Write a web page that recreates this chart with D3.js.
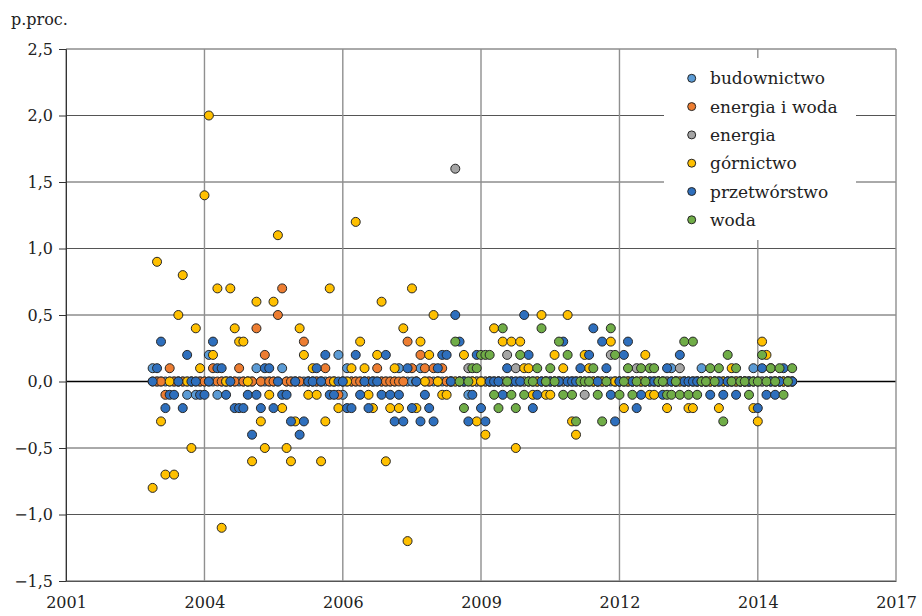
<!DOCTYPE html>
<html lang="pl">
<head>
<meta charset="utf-8">
<script src="https://cdn.jsdelivr.net/npm/d3@7"></script>
<style>
  body { margin: 0; background: #fff; }
</style>
</head>
<body>
<div id="chart"></div>
<script>
// Dane miesięczne (p.proc.), jeden wiersz = jeden rok
// budownictwo, górnictwo, przetwórstwo, energia i woda: od 2003-01
const budownictwo = [
  0.1, 0, 0, 0, 0, 0, 0, 0, -0.1, 0, -0.1, 0,
  0, 0.2, 0, -0.1, 0, 0, 0, 0, 0, 0, 0, 0,
  0.1, 0, 0, 0, 0, 0, 0.1, 0, 0, 0, 0, 0,
  0, 0, 0, 0, 0, 0, 0, 0.2, -0.1, 0.1, 0, 0,
  0, 0, 0, 0, 0, 0, 0, 0, 0, 0.1, 0, 0,
  0, 0, 0.1, 0, 0, 0, 0, 0, 0, 0, 0, 0,
  0, -0.1, 0, 0, 0, 0, 0, 0, 0, 0, 0, 0,
  0, 0, 0, 0, 0, 0, 0, 0, 0, 0, 0, 0,
  0, 0, 0, 0, 0, 0, 0, 0, 0, 0, 0, 0,
  0, 0, 0, 0, 0, 0, 0, 0, 0, 0, 0, 0,
  0.1, 0, 0, 0, 0, 0, 0, 0.1, 0, 0, 0, 0,
  0, 0, 0, 0, 0, 0, 0, 0.1, 0, 0, 0, 0,
  0, 0, 0, 0, 0
];

const energiaWoda = [
  0, 0, 0, -0.1, 0.1, 0, 0, 0, 0, 0, 0, 0,
  0, 0, 0.1, 0, 0, 0, 0, 0, 0.1, 0, 0, 0,
  0.4, 0, 0.2, 0, 0, 0.5, 0.7, 0, 0, 0, 0, 0.3,
  0, 0, 0, 0, 0.1, 0, 0, -0.1, 0, 0, 0, 0,
  0, 0, 0, 0, 0.1, 0, 0, 0, 0, 0, 0, 0.3,
  0.1, 0, 0.2, 0.1, 0, 0.1, 0, 0.1, 0, 0
];

// energia i woda osobno: od 2008-11
const energia = [
  1.6, 0,
  0, 0.1, 0, 0, 0, 0, 0, 0, 0, 0, 0.2, 0,
  0.1, 0, 0, 0, 0, 0, 0, 0, 0, 0, 0, 0,
  0, 0, 0, 0, -0.1, 0, 0, 0, 0, 0, 0.2, 0,
  0, 0, 0, 0, 0.1, 0, 0, 0, 0, 0, 0, 0,
  0, 0, 0.1, 0, 0, 0, 0, 0, 0, 0, 0, 0,
  0, 0, 0, 0, 0, 0, 0, 0, 0, 0, 0, 0,
  0, 0, 0, 0, 0
];

const gornictwo = [
  -0.8, 0.9, -0.3, -0.7, 0, -0.7, 0.5, 0.8, 0, -0.5, 0.4, 0.1,
  1.4, 2.0, 0.2, 0.7, -1.1, 0, 0.7, 0.4, 0.3, 0.3, 0, -0.6,
  0.6, -0.3, -0.5, -0.1, 0.6, 1.1, -0.2, -0.5, -0.6, -0.3, 0.4, 0.2,
  -0.1, 0.1, -0.1, -0.6, -0.3, 0.7, 0, -0.2, 0, 0, 0.1, 1.2,
  0.3, 0.1, -0.1, -0.2, 0.2, 0.6, -0.6, -0.2, 0.1, -0.2, 0.4, -1.2,
  0.7, -0.2, 0.3, 0, 0.2, 0.5, 0, -0.1, -0.1, 0, 0, 0,
  0.2, 0, 0, -0.3, 0, -0.4, 0, 0.4, 0, 0.3, 0, 0.3,
  -0.5, 0.3, 0.1, 0.1, -0.1, 0, 0.5, -0.1, -0.1, 0.2, 0, 0.1,
  0.5, -0.3, -0.4, 0, 0.2, 0.1, 0, 0, 0, 0, 0.3, 0,
  0, -0.2, 0, 0, 0, 0, 0.2, -0.1, -0.1, 0, 0, -0.2,
  0, 0, 0, 0, -0.2, -0.2, 0, 0, 0, 0, 0, -0.2,
  0, 0, 0.1, 0, 0, 0, 0, -0.2, -0.3, 0.3, 0.2, 0.1,
  0, 0, 0, 0, 0
];

const przetworstwo = [
  0, 0.1, 0.3, -0.2, -0.1, -0.1, 0, -0.2, 0.2, 0, 0, -0.1,
  -0.1, 0, 0.3, 0.1, 0.1, -0.1, 0, -0.2, -0.2, -0.2, -0.1, -0.4,
  -0.1, -0.2, 0.1, 0.1, -0.2, 0, -0.1, -0.1, -0.3, 0, -0.4, -0.3,
  0, 0, 0.1, 0, 0.2, -0.1, -0.1, 0, 0, -0.2, -0.2, 0.2,
  -0.1, 0, -0.2, 0, 0, -0.1, 0.2, -0.1, -0.3, -0.1, -0.3, 0.1,
  -0.2, 0, -0.3, -0.1, -0.2, -0.3, 0.1, 0.2, 0.2, 0, 0.5, 0.3,
  0, -0.3, -0.1, 0.2, -0.2, -0.3, 0, 0, 0, -0.1, 0.1, 0,
  0, 0, 0.5, 0.2, -0.2, -0.1, 0, 0, 0, 0, 0, 0.3,
  0, 0, 0, 0.1, 0, 0.2, 0.4, 0, 0.3, 0.1, -0.1, -0.3,
  0, 0.2, 0.3, 0, -0.2, -0.1, 0, 0, 0, 0, -0.1, 0.1,
  0, 0, 0.2, 0, 0, 0, 0, 0, 0, -0.1, 0, 0,
  -0.1, 0, 0, -0.1, 0, 0, 0, 0, -0.2, 0.1, -0.1, 0,
  -0.1, 0, 0.1, 0, 0
];

const woda = [
  0.3, 0,
  -0.2, 0, 0.1, 0.1, 0.2, 0.2, 0.2, -0.1, -0.2, 0.4, 0, -0.1,
  -0.2, 0.2, -0.1, 0, 0, 0.1, 0.4, 0, 0.1, 0, 0.3, -0.1,
  0.2, -0.1, -0.3, 0, 0, 0, 0.1, -0.1, -0.3, 0, 0.4, 0.2,
  -0.1, 0, 0.1, -0.1, 0, 0.1, 0, 0.1, 0.1, 0, 0, -0.1,
  -0.1, 0, -0.1, 0.3, -0.1, 0.3, -0.1, 0, 0, 0.1, 0, 0.1,
  -0.3, 0.2, 0, 0.1, 0, 0, -0.1, 0, 0, 0.2, 0, 0.1,
  0, 0.1, -0.1, 0, 0.1
];

const seriesNames = ["budownictwo", "energia i woda", "energia", "górnictwo", "przetwórstwo", "woda"];
const seriesValues = [budownictwo, energiaWoda, energia, gornictwo, przetworstwo, woda];
const seriesStart = ["2003-01", "2003-01", "2008-11", "2003-01", "2003-01", "2008-11"];
const seriesColors = ["#5b9bd5", "#ed7d31", "#a5a5a5", "#ffc000", "#2e6fbd", "#70ad47"];

const yTicks = [-1.5, -1.0, -0.5, 0, 0.5, 1.0, 1.5, 2.0, 2.5];
const xTickDates = ["2001-05", "2004-01", "2006-09", "2009-05", "2012-01", "2014-09", "2017-05"];

// Wymiary
const width = 922;
const height = 616;
const margin = { top: 49, right: 26, bottom: 35, left: 66 };
const innerWidth = width - margin.left - margin.right;
const innerHeight = height - margin.top - margin.bottom;
const fontFamily = "DejaVu Serif";

const parseMonth = d3.timeParse("%Y-%m");
const fmtY = (d) => d3.format(".1f")(d).replace(".", ",");

const svg = d3
  .select("#chart")
  .append("svg")
  .attr("width", width)
  .attr("height", height)
  .attr("font-family", fontFamily);

const chart = svg
  .append("g")
  .attr("transform", `translate(${margin.left}, ${margin.top})`);

// Skale
const tickDates = xTickDates.map(parseMonth);
const x = d3
  .scaleTime()
  .domain([tickDates[0], tickDates[tickDates.length - 1]])
  .range([0, innerWidth]);

const y = d3.scaleLinear().domain([-1.5, 2.5]).range([innerHeight, 0]);

// Siatka pozioma
chart
  .selectAll("line.hgrid")
  .data(yTicks)
  .enter()
  .append("line")
  .attr("class", "hgrid")
  .attr("x1", 0)
  .attr("x2", innerWidth)
  .attr("y1", (d) => y(d))
  .attr("y2", (d) => y(d))
  .attr("stroke", (d) => (d === 0 ? "#000" : "#555"))
  .attr("stroke-width", (d) => (d === 0 ? 1.5 : 1));

// Siatka pionowa
chart
  .selectAll("line.vgrid")
  .data(tickDates)
  .enter()
  .append("line")
  .attr("class", "vgrid")
  .attr("x1", (d) => x(d))
  .attr("x2", (d) => x(d))
  .attr("y1", 0)
  .attr("y2", innerHeight)
  .attr("stroke", "#8f8f8f")
  .attr("stroke-width", 1.4);

// Osie
const yAxis = chart
  .append("g")
  .call(d3.axisLeft(y).tickValues(yTicks).tickFormat(fmtY).tickSize(7).tickPadding(6))
  .attr("font-family", fontFamily)
  .attr("font-size", 16);
yAxis.select(".domain").attr("stroke", "#333");
yAxis.selectAll(".tick line").attr("stroke", "#333");
yAxis.selectAll("text").attr("fill", "#222");

const xAxis = chart
  .append("g")
  .attr("transform", `translate(0, ${innerHeight})`)
  .call(d3.axisBottom(x).tickValues(tickDates).tickFormat(d3.timeFormat("%Y")).tickSize(0).tickPadding(16))
  .attr("font-family", fontFamily)
  .attr("font-size", 16);
xAxis.select(".domain").attr("stroke", "#555");
xAxis.selectAll("text").attr("fill", "#222");

// Punkty
seriesNames.forEach((name, k) => {
  const start = parseMonth(seriesStart[k]);
  const points = seriesValues[k].map((v, i) => ({
    date: d3.timeMonth.offset(start, i),
    value: v,
  }));
  chart
    .append("g")
    .selectAll("circle")
    .data(points)
    .enter()
    .append("circle")
    .attr("cx", (d) => x(d.date))
    .attr("cy", (d) => y(d.value))
    .attr("r", 4.5)
    .attr("fill", seriesColors[k])
    .attr("stroke", "#262626")
    .attr("stroke-width", 1);
});

// Legenda
const legend = svg.append("g").attr("transform", "translate(664, 58)");

legend
  .append("rect")
  .attr("width", 192)
  .attr("height", 182)
  .attr("fill", "#fff");

const items = legend
  .selectAll("g.item")
  .data(seriesNames)
  .enter()
  .append("g")
  .attr("class", "item")
  .attr("transform", (d, i) => `translate(0, ${20.3 + i * 28.3})`);

items
  .append("circle")
  .attr("cx", 27.7)
  .attr("r", 4)
  .attr("fill", (d, i) => seriesColors[i])
  .attr("stroke", "#262626")
  .attr("stroke-width", 1);

items
  .append("text")
  .attr("x", 46)
  .attr("y", 6)
  .attr("font-size", 17)
  .attr("fill", "#222")
  .text((d) => d);

// Jednostka
svg
  .append("text")
  .attr("x", 11)
  .attr("y", 25)
  .attr("font-size", 16)
  .attr("fill", "#222")
  .text("p.proc.");
</script>
</body>
</html>
